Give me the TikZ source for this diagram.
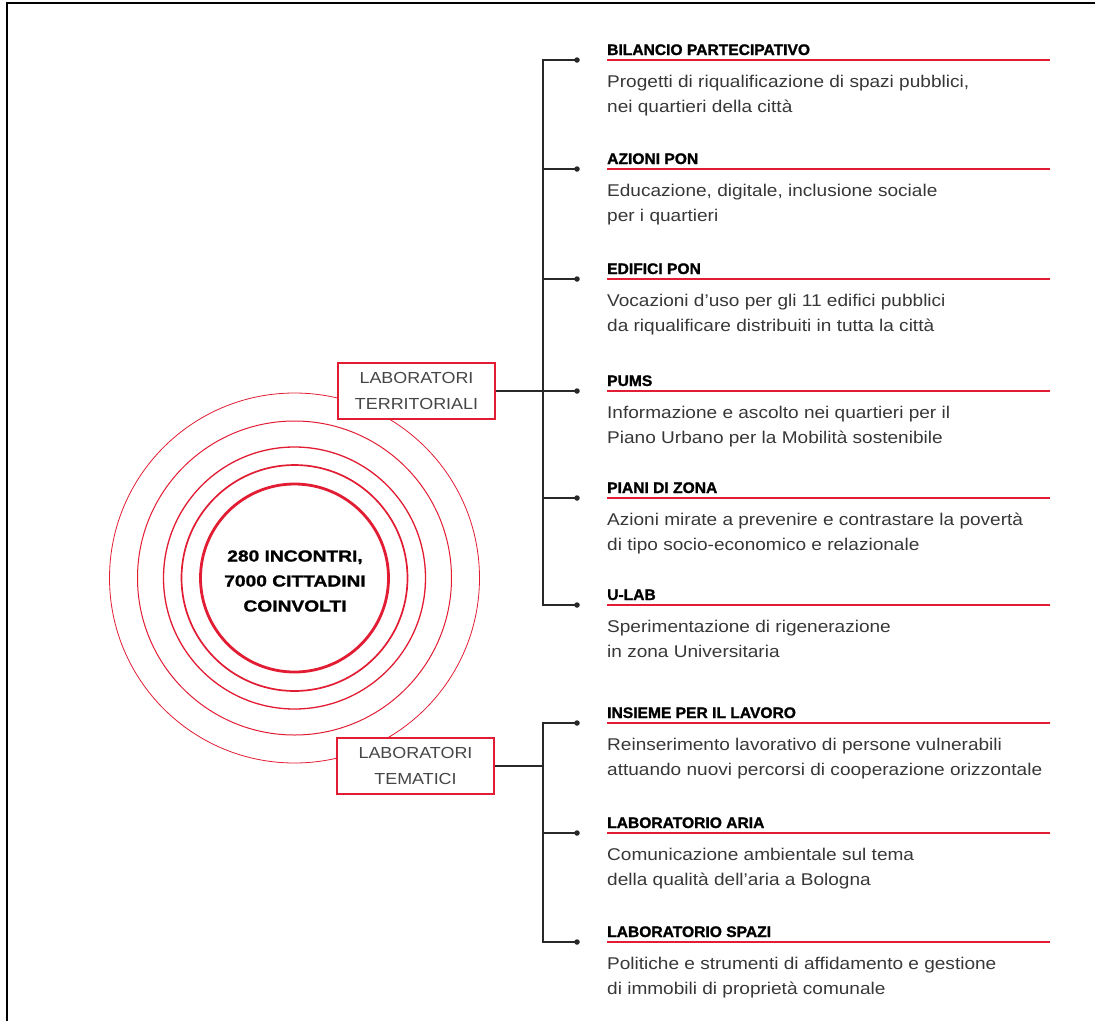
\documentclass[tikz,border=0pt]{standalone}
\usepackage{fontspec}
\setmainfont{Liberation Sans}
\newfontfamily\heavyfont{Liberation Sans}[FakeStretch=1.2,BoldFeatures={FakeBold=1.2}]
\newfontfamily\titlefont{Liberation Sans}[FakeStretch=1.02,BoldFeatures={FakeBold=1.3}]
\newfontfamily\descfont{Liberation Sans}[FakeStretch=1.12]
\definecolor{brandred}{RGB}{226,28,50}
\definecolor{conncol}{RGB}{40,40,40}
\definecolor{desccol}{RGB}{55,55,55}
\definecolor{boxtext}{RGB}{70,70,70}
\tikzset{
  ring/.style={draw=brandred},
  labbox/.style={draw=brandred, line width=2.2bp, fill=white, minimum width=157bp, minimum height=56bp,
    align=center, inner sep=0pt, text=boxtext, font=\descfont\fontsize{16bp}{26bp}\selectfont},
  centretext/.style={align=center, inner sep=0pt, font=\heavyfont\bfseries\fontsize{16bp}{25bp}\selectfont, text=black},
  dotst/.style={circle, fill=conncol, inner sep=0pt, minimum size=5.5bp},
  conn/.style={draw=conncol, line width=1.6bp},
  redline/.style={draw=brandred, line width=1.6bp},
  titlest/.style={anchor=base west, inner sep=0pt, font=\titlefont\bfseries\fontsize{15.3bp}{18bp}\selectfont, text=black},
  descst/.style={anchor=north west, inner sep=0pt, align=left, text=desccol, font=\descfont\fontsize{17bp}{25bp}\selectfont},
}
\newcommand\projitem[5]{%
  \node[dotst] (d#1) at (577,#2) {};
  \draw[redline] (607,#2) -- (1050,#2);
  \node[titlest] (t#1) at (607,#2-5) {#3};
  \node[descst] (s#1) at (607,#2+14) {\rule{0pt}{13bp}#4\\#5};
}
\begin{document}
\begin{tikzpicture}[x=1bp,y=-1bp]
\useasboundingbox (0,0) rectangle (1095,1021);
% frame
\draw[line width=2.2bp, black] (7,1021) -- (7,3) -- (1095,3);
% rings
\coordinate (c) at (294.5,578);
\draw[ring, line width=0.8bp] (c) circle[radius=185];
\draw[ring, line width=1.0bp] (c) circle[radius=157];
\draw[ring, line width=1.3bp] (c) circle[radius=131];
\draw[ring, line width=1.7bp] (c) circle[radius=113];
\draw[ring, line width=2.8bp] (c) circle[radius=94];
\node[centretext] (centre) at (295,581) {280 INCONTRI,\\7000 CITTADINI\\COINVOLTI};
% boxes
\node[labbox] (terr) at (416.5,391) {LABORATORI\\TERRITORIALI};
\node[labbox] (tema) at (415.5,766) {LABORATORI\\TEMATICI};
% items
\projitem{1}{60}{BILANCIO PARTECIPATIVO}{Progetti di riqualificazione di spazi pubblici,}{nei quartieri della città}
\projitem{2}{169}{AZIONI PON}{Educazione, digitale, inclusione sociale}{per i quartieri}
\projitem{3}{279}{EDIFICI PON}{Vocazioni d’uso per gli 11 edifici pubblici}{da riqualificare distribuiti in tutta la città}
\projitem{4}{391}{PUMS}{Informazione e ascolto nei quartieri per il}{Piano Urbano per la Mobilità sostenibile}
\projitem{5}{498}{PIANI DI ZONA}{Azioni mirate a prevenire e contrastare la povertà}{di tipo socio-economico e relazionale}
\projitem{6}{605}{U-LAB}{Sperimentazione di rigenerazione}{in zona Universitaria}
\projitem{7}{723}{INSIEME PER IL LAVORO}{Reinserimento lavorativo di persone vulnerabili}{attuando nuovi percorsi di cooperazione orizzontale}
\projitem{8}{833}{LABORATORIO ARIA}{Comunicazione ambientale sul tema}{della qualità dell’aria a Bologna}
\projitem{9}{942}{LABORATORIO SPAZI}{Politiche e strumenti di affidamento e gestione}{di immobili di proprietà comunale}
% connectors: territoriali
\coordinate (jt) at (543,391);
\draw[conn] (d1.center) -| (jt) |- (d6.center);
\draw[conn] (terr.east) -- (d4.center);
\foreach \k in {2,3,5}{\draw[conn] (d\k.center) -- (d\k -| jt);}
% connectors: tematici
\coordinate (jm) at (543,766);
\draw[conn] (d7.center) -| (jm) |- (d9.center);
\draw[conn] (tema.east) -- (jm);
\draw[conn] (d8.center) -- (d8 -| jm);
\end{tikzpicture}
\end{document}
